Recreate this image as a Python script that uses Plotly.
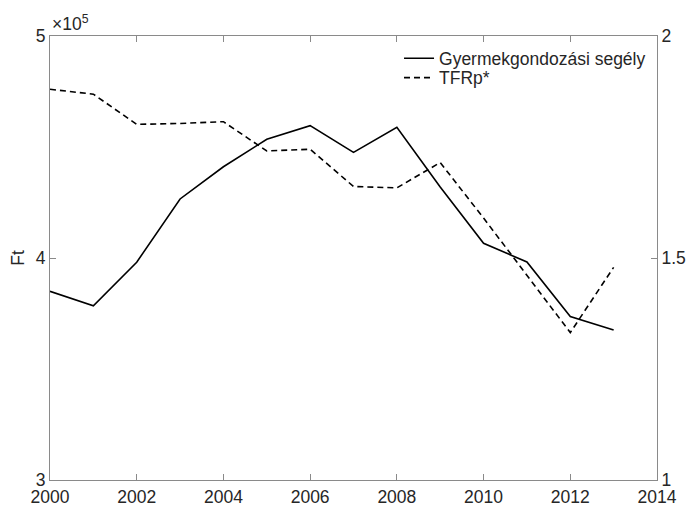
import plotly.graph_objects as go

years = list(range(2000, 2014))
segely = [385000, 378500, 398100, 426600, 441100, 453500, 459600, 447600, 458900, 432000, 406600, 398200, 373600, 367600]
tfrp = [1.880, 1.869, 1.801, 1.803, 1.807, 1.741, 1.745, 1.661, 1.658, 1.715, 1.590, 1.461, 1.332, 1.479]
x_ticks = [2000, 2002, 2004, 2006, 2008, 2010, 2012, 2014]
y1_ticks = [300000, 400000, 500000]
y1_text = ["3", "4", "5"]
y2_ticks = [1, 1.5, 2]
y2_text = ["1", "1.5", "2"]

FONT = "Liberation Sans, Arial, Helvetica, sans-serif"
AXC = "#8a8a8a"
TXT = "#262626"
FS = 17.5

fig = go.Figure()
fig.add_trace(go.Scatter(x=years, y=segely, mode="lines", name="Gyermekgondozási segély",
                         line=dict(color="black", width=1.6), yaxis="y", legend="legend"))
fig.add_trace(go.Scatter(x=years, y=tfrp, mode="lines", name="TFRp*",
                         line=dict(color="black", width=1.6, dash="6px,4px"), yaxis="y2",
                         legend="legend2"))

leg_common = dict(xanchor="left", yanchor="top", bgcolor="rgba(0,0,0,0)", borderwidth=0,
                  font=dict(size=FS, color=TXT))

fig.update_layout(
    width=692, height=506,
    margin=dict(l=50, r=35, t=36, b=26, autoexpand=False),
    paper_bgcolor="white", plot_bgcolor="white",
    font=dict(family=FONT, size=FS, color=TXT),
    showlegend=True,
    legend=dict(x=0.575, y=0.990, **leg_common),
    legend2=dict(x=0.575, y=0.9466, **leg_common),
    xaxis=dict(range=[2000, 2014], tickvals=x_ticks, ticks="inside", ticklen=6,
               tickcolor=AXC, showline=True, linecolor=AXC, linewidth=1, mirror="ticks",
               showgrid=False, zeroline=False, ticklabelstandoff=1,
               tickfont=dict(size=FS, color=TXT)),
    yaxis=dict(range=[300000, 500000], tickvals=y1_ticks, ticktext=y1_text,
               ticks="inside", ticklen=6, tickcolor=AXC, showline=True, linecolor=AXC,
               linewidth=1, showgrid=False, zeroline=False,
               title=dict(text="Ft", standoff=6, font=dict(size=FS, color=TXT)),
               tickfont=dict(size=FS, color=TXT)),
    yaxis2=dict(range=[1, 2], tickvals=y2_ticks, ticktext=y2_text, overlaying="y",
                side="right", ticks="inside", ticklen=6, tickcolor=AXC, showline=True,
                linecolor=AXC, linewidth=1, showgrid=False, zeroline=False,
                tickfont=dict(size=FS, color=TXT)),
    annotations=[dict(text="×10<sup>5</sup>", x=0, y=1, xref="paper", yref="paper",
                      xanchor="left", yanchor="bottom", showarrow=False, yshift=0,
                      font=dict(size=FS, color=TXT))],
)

fig.write_html("out.html", config={"displayModeBar": False},
               post_script="document.body.style.margin='0';")
